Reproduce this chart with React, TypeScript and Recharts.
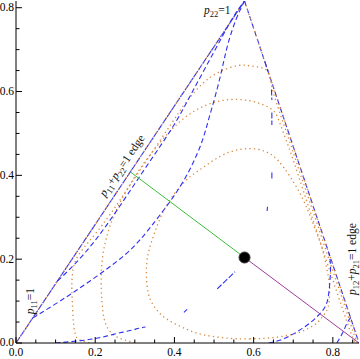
import React from "react";
import { LineChart, Line, XAxis, YAxis, ReferenceDot } from "recharts";

type Pt = [number, number];

// frame ticks (minor every 0.05, labels on the 0.2 steps)
const X_TICKS = [0, 0.05, 0.1, 0.15, 0.2, 0.25, 0.3, 0.35, 0.4, 0.45, 0.5, 0.55, 0.6, 0.65, 0.7, 0.75, 0.8, 0.85];
const Y_TICKS = [0, 0.05, 0.1, 0.15, 0.2, 0.25, 0.3, 0.35, 0.4, 0.45, 0.5, 0.55, 0.6, 0.65, 0.7, 0.75, 0.8];
const X_DOMAIN: Pt = [0, 0.866];
const Y_DOMAIN: Pt = [0, 0.816];

// triangle edges
const LEFT_EDGE: Pt[] = [[0, 0], [0.577, 0.816]];
const RIGHT_EDGE: Pt[] = [[0.577, 0.816], [0.866, 0]];

// blue dashed contours
const BLUE_C: Pt[] = [[0.043, 0.06], [0.111, 0.1], [0.187, 0.148], [0.263, 0.201], [0.313, 0.246], [0.364, 0.306], [0.422, 0.385], [0.465, 0.469], [0.485, 0.529], [0.503, 0.589], [0.52, 0.653], [0.535, 0.713], [0.556, 0.773], [0.577, 0.816]];
const BLUE_D: Pt[] = [[0.105, 0.148], [0.15, 0.19], [0.2, 0.245], [0.25, 0.31], [0.3, 0.38], [0.35, 0.45], [0.4, 0.522], [0.44, 0.59], [0.48, 0.66], [0.52, 0.73], [0.55, 0.78], [0.577, 0.816]];
const BLUE_F: Pt[] = [[0.1, 0], [0.147, 0.004], [0.197, 0.01], [0.235, 0.018], [0.27, 0.026], [0.294, 0.031], [0.31, 0.035], [0.327, 0.038]];
const BLUE_G: Pt[] = [[0.638, 0], [0.67, 0.008], [0.71, 0.027], [0.745, 0.05], [0.772, 0.075], [0.786, 0.1], [0.792, 0.14], [0.794, 0.185], [0.79, 0.215]];
const BLUE_H: Pt[] = [[0.81, 0], [0.825, 0.025], [0.836, 0.048], [0.846, 0.062]];
const BLUE_BITS: Pt[][] = [
  [[0.628, 0.672], [0.636, 0.648]],
  [[0.645, 0.605], [0.646, 0.58]],
  [[0.646, 0.55], [0.646, 0.52]],
  [[0.646, 0.407], [0.646, 0.39]],
  [[0.635, 0.325], [0.634, 0.315]],
  [[0.508, 0.129], [0.553, 0.17]],
  [[0.424, 0.073], [0.432, 0.08]],
];

// orange dotted contours
const ORANGE_A: Pt[] = [[0.591, 0.01], [0.54, 0.011], [0.476, 0.019], [0.435, 0.031], [0.397, 0.048], [0.367, 0.067], [0.347, 0.09], [0.334, 0.119], [0.329, 0.167], [0.334, 0.214], [0.347, 0.255], [0.365, 0.3], [0.388, 0.34], [0.414, 0.373], [0.44, 0.397], [0.465, 0.414], [0.515, 0.445], [0.566, 0.462], [0.611, 0.462], [0.64, 0.452], [0.662, 0.435], [0.692, 0.397], [0.725, 0.342], [0.75, 0.285], [0.768, 0.24], [0.78, 0.199], [0.79, 0.15], [0.792, 0.12], [0.788, 0.086], [0.775, 0.064], [0.76, 0.048], [0.74, 0.036], [0.717, 0.026], [0.69, 0.019], [0.659, 0.014], [0.625, 0.011], [0.591, 0.01]];
const ORANGE_B: Pt[] = [[0.3, 0], [0.272, 0.008], [0.248, 0.018], [0.232, 0.035], [0.222, 0.06], [0.217, 0.1], [0.215, 0.15], [0.218, 0.2], [0.228, 0.25], [0.248, 0.305], [0.28, 0.365], [0.32, 0.425], [0.365, 0.48], [0.41, 0.525], [0.455, 0.556], [0.5, 0.574], [0.545, 0.581], [0.59, 0.578], [0.625, 0.568], [0.652, 0.552], [0.668, 0.52], [0.695, 0.45], [0.73, 0.35], [0.765, 0.25], [0.8, 0.15], [0.825, 0.08], [0.843, 0.03], [0.856, 0]];
const ORANGE_C: Pt[] = [[0.185, 0], [0.16, 0.008], [0.15, 0.02], [0.145, 0.05], [0.142, 0.1], [0.141, 0.14], [0.145, 0.18], [0.158, 0.21], [0.178, 0.235], [0.2, 0.26], [0.24, 0.31], [0.29, 0.38], [0.34, 0.45], [0.39, 0.52], [0.43, 0.575], [0.47, 0.618], [0.51, 0.645], [0.56, 0.662], [0.6, 0.66], [0.633, 0.65], [0.649, 0.6], [0.684, 0.5], [0.719, 0.4], [0.755, 0.3], [0.79, 0.2], [0.826, 0.1], [0.85, 0.03], [0.861, 0]];

// point and the two segments from it
const POINT: Pt = [0.577, 0.204];
const GREEN_SEG: Pt[] = [[0.577, 0.204], [0.289, 0.408]];
const PURPLE_SEG: Pt[] = [[0.577, 0.204], [0.866, 0]];

// text label anchors
const LABEL_P11: Pt = [0.036, 0.1];
const LABEL_P22: Pt = [0.508, 0.793];
const LABEL_LEFT_EDGE: Pt = [0.268, 0.423];
const LABEL_RIGHT_EDGE: Pt = [0.849, 0.2];

const BLUE = "#3030f4";
const ORANGE = "#d98a40";
const FONT = "'Liberation Serif', 'Times New Roman', serif";

const dashed = { stroke: BLUE, strokeWidth: 1.1, strokeDasharray: "5 3" };
const dotted = { stroke: ORANGE, strokeWidth: 1.3, strokeDasharray: "1.3 3.2" };

const rows = (pts: Pt[]) => pts.map(([x, y]) => ({ x, y }));

const SERIES = [
  { id: "leftEdgeBlue", pts: LEFT_EDGE, style: { ...dashed, strokeDasharray: "7 1" } },
  { id: "leftEdgeOrange", pts: LEFT_EDGE, style: dotted },
  { id: "rightEdgeBlue", pts: RIGHT_EDGE, style: dashed },
  { id: "rightEdgeOrange", pts: RIGHT_EDGE, style: dotted },
  { id: "orangeA", pts: ORANGE_A, style: dotted },
  { id: "orangeB", pts: ORANGE_B, style: dotted },
  { id: "orangeC", pts: ORANGE_C, style: dotted },
  { id: "blueC", pts: BLUE_C, style: dashed },
  { id: "blueD", pts: BLUE_D, style: dashed },
  { id: "blueF", pts: BLUE_F, style: dashed },
  { id: "blueG", pts: BLUE_G, style: dashed },
  { id: "blueH", pts: BLUE_H, style: dashed },
  ...BLUE_BITS.map((pts, i) => ({ id: "bit" + i, pts, style: { ...dashed, strokeDasharray: "6 2" } })),
  { id: "green", pts: GREEN_SEG, style: { stroke: "#3cbf3c", strokeWidth: 1 } },
  { id: "purple", pts: PURPLE_SEG, style: { stroke: "#9c3c9c", strokeWidth: 1 } },
];

const isMajor = (v: number) => Math.abs(v * 5 - Math.round(v * 5)) < 1e-6;
const tickLen = (v: number) => (isMajor(v) ? 6 : 3.5);

function BottomTick({ x, y, payload }: any) {
  const v = payload.value;
  return (
    <g>
      <line x1={x} x2={x} y1={y} y2={y - tickLen(v)} stroke="#000" />
      {isMajor(v) && (
        <text x={x} y={y + 13} textAnchor="middle" fontSize={11.5} fontFamily={FONT} fill="#000">
          {v.toFixed(1)}
        </text>
      )}
    </g>
  );
}

function LeftTick({ x, y, payload }: any) {
  const v = payload.value;
  return (
    <g>
      <line x1={x} x2={x + tickLen(v)} y1={y} y2={y} stroke="#000" />
      {isMajor(v) && (
        <text x={x - 2} y={y} dy="0.3em" textAnchor="end" fontSize={11.5} fontFamily={FONT} fill="#000">
          {v.toFixed(1)}
        </text>
      )}
    </g>
  );
}

function TopTick({ x, y, payload }: any) {
  return <line x1={x} x2={x} y1={y} y2={y + tickLen(payload.value)} stroke="#000" />;
}

function RightTick({ x, y, payload }: any) {
  return <line x1={x} x2={x - tickLen(payload.value)} y1={y} y2={y} stroke="#000" />;
}

// italic "p" with a subscript, then the rest
function Formula({ cx, cy, angle, parts }: { cx: number; cy: number; angle: number; parts: [string, string, string][] }) {
  return (
    <text
      transform={`translate(${cx},${cy}) rotate(${angle})`}
      textAnchor="middle"
      dy="0.3em"
      fontFamily={FONT}
      fontSize={11.5}
      fill="#111"
    >
      {parts.flatMap(([p, sub, rest], i) => [
        <tspan key={i + "p"} fontStyle="italic">{p}</tspan>,
        <tspan key={i + "s"} fontSize={8.5} dy={3}>{sub}</tspan>,
        <tspan key={i + "r"} dy={-3}>{rest}</tspan>,
      ])}
    </text>
  );
}

const textDot = (pos: Pt, angle: number, parts: [string, string, string][]) => (
  <ReferenceDot
    x={pos[0]}
    y={pos[1]}
    r={0}
    isFront
    shape={(p: any) => <Formula cx={p.cx} cy={p.cy} angle={angle} parts={parts} />}
  />
);

export default function App() {
  return (
    <div style={{ position: "absolute", left: 0, top: 0, width: 360, height: 359, background: "#fff" }}>
      <LineChart width={360} height={359} margin={{ top: 1, right: 1, bottom: 0, left: 0 }}>
        <XAxis
          type="number"
          dataKey="x"
          domain={X_DOMAIN}
          ticks={X_TICKS}
          interval={0}
          allowDataOverflow
          height={16}
          tickSize={0}
          tickMargin={0}
          tickLine={false}
          axisLine={{ stroke: "#000" }}
          tick={BottomTick}
        />
        <XAxis
          xAxisId="top"
          orientation="top"
          type="number"
          dataKey="x"
          domain={X_DOMAIN}
          ticks={X_TICKS}
          interval={0}
          allowDataOverflow
          height={0}
          tickSize={0}
          tickMargin={0}
          tickLine={false}
          axisLine={{ stroke: "#000" }}
          tick={TopTick}
        />
        <YAxis
          type="number"
          dataKey="y"
          domain={Y_DOMAIN}
          ticks={Y_TICKS}
          interval={0}
          allowDataOverflow
          width={16}
          tickSize={0}
          tickMargin={0}
          tickLine={false}
          axisLine={{ stroke: "#000" }}
          tick={LeftTick}
        />
        <YAxis
          yAxisId="right"
          orientation="right"
          type="number"
          dataKey="y"
          domain={Y_DOMAIN}
          ticks={Y_TICKS}
          interval={0}
          allowDataOverflow
          width={0}
          tickSize={0}
          tickMargin={0}
          tickLine={false}
          axisLine={{ stroke: "#000" }}
          tick={RightTick}
        />
        {SERIES.map((s) => (
          <Line
            key={s.id}
            data={rows(s.pts)}
            dataKey="y"
            type="natural"
            dot={false}
            activeDot={false}
            isAnimationActive={false}
            {...s.style}
          />
        ))}
        <ReferenceDot x={POINT[0]} y={POINT[1]} r={5.5} fill="#000" stroke="#333" isFront />
        {textDot(LABEL_P11, -90, [["p", "11", "=1"]])}
        {textDot(LABEL_P22, 0, [["p", "22", "=1"]])}
        {textDot(LABEL_LEFT_EDGE, -56, [["p", "11", "+"], ["p", "22", "=1 edge"]])}
        {textDot(LABEL_RIGHT_EDGE, -90, [["p", "12", "+"], ["p", "21", "=1 edge"]])}
      </LineChart>
    </div>
  );
}
